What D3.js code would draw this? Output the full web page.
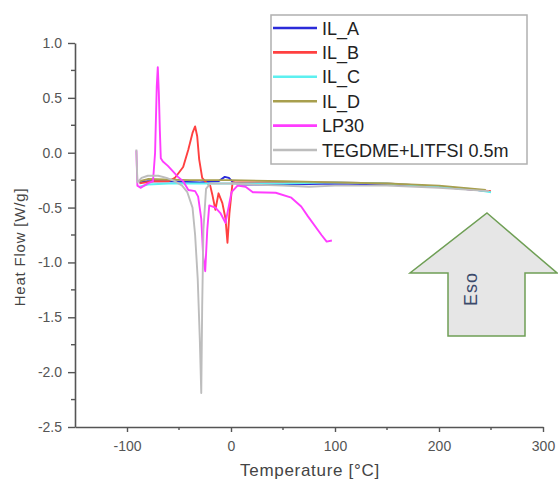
<!DOCTYPE html>
<meta charset="utf-8">
<body style="margin:0;background:#fff">
<script src="https://d3js.org/d3.v7.min.js"></script>
<div id="chart"></div>
<script>

// Series values: [temperature °C, heat flow W/g]
var ilA = [[-88,-0.27],[-80,-0.26],[-60,-0.26],[-30,-0.27],[-12,-0.26],[-6,-0.22],[-2,-0.23],[2,-0.27],[10,-0.29],[50,-0.29],[100,-0.28],[150,-0.29],[200,-0.31],[248,-0.35]]
var ilB = [[-88,-0.28],[-75,-0.26],[-60,-0.26],[-54,-0.23],[-46,-0.13],[-41,0.03],[-37,0.18],[-34.5,0.24],[-32.5,0.15],[-30.6,-0.06],[-27.7,-0.23],[-24,-0.27],[-20,-0.3],[-18,-0.38],[-15,-0.52],[-12,-0.37],[-8.3,-0.46],[-5.3,-0.6],[-3.4,-0.82],[-1.5,-0.55],[1.5,-0.27],[20,-0.27],[50,-0.27],[100,-0.27],[150,-0.28],[200,-0.31],[250,-0.35]]
var ilC = [[-88,-0.31],[-80,-0.29],[-60,-0.28],[0,-0.28],[50,-0.28],[100,-0.27],[150,-0.28],[200,-0.31],[230,-0.33],[250,-0.36]]
var ilD = [[-88,-0.26],[-80,-0.24],[-40,-0.25],[0,-0.25],[50,-0.26],[100,-0.27],[150,-0.28],[200,-0.3],[245,-0.34]]
var lp30 = [[-91,0.02],[-90,-0.3],[-87,-0.32],[-80,-0.28],[-75,-0.26],[-73,0.0],[-71.4,0.6],[-70.4,0.78],[-69.4,0.55],[-68.4,0.2],[-67.5,-0.05],[-65.5,-0.08],[-60.7,-0.12],[-55.8,-0.17],[-51,-0.22],[-46,-0.26],[-41,-0.34],[-34.5,-0.35],[-31.6,-0.4],[-28.6,-0.6],[-26.7,-0.95],[-24.8,-1.08],[-22.8,-0.7],[-20.9,-0.48],[-15,-0.5],[-10.2,-0.55],[-5.3,-0.64],[-2.4,-0.5],[0.5,-0.36],[6.3,-0.3],[14,-0.31],[21,-0.36],[43,-0.365],[58,-0.41],[67.5,-0.49],[74,-0.58],[87,-0.75],[92,-0.81],[97,-0.8]]
var tegdme = [[-91,0.03],[-90,-0.27],[-86,-0.23],[-80,-0.21],[-70,-0.21],[-62,-0.23],[-54,-0.26],[-47,-0.3],[-42,-0.36],[-37,-0.5],[-34.5,-0.75],[-32,-1.15],[-30,-1.7],[-28.6,-2.19],[-27.7,-1.4],[-26.5,-0.7],[-24,-0.33],[-20,-0.28],[0,-0.28],[20,-0.29],[50,-0.3],[75,-0.31],[100,-0.3],[150,-0.3],[200,-0.32],[248,-0.35]]

var seriesNames = ["IL_A", "IL_B", "IL_C", "IL_D", "LP30", "TEGDME+LITFSI 0.5m"]
var seriesColors = ["#2b2bd9", "#ff4040", "#5cf0f0", "#a89f4e", "#ff3cff", "#bdbdbd"]
var seriesData = [ilA, ilB, ilC, ilD, lp30, tegdme]

var xTicks = [-100, 0, 100, 200, 300]
var yTicks = [1.0, 0.5, 0.0, -0.5, -1.0, -1.5, -2.0, -2.5]

var width = 558, height = 482
var font = "'Liberation Sans', Arial, sans-serif"

var svg = d3.select("#chart")
  .append("svg")
    .attr("width", width)
    .attr("height", height)

var x = d3.scaleLinear().domain([-150, 300]).range([75, 543])
var y = d3.scaleLinear().domain([-2.5, 1.0]).range([427, 43])

var axisColor = "#555"

// Bottom axis (plain hyphen for minus, like the original)
var gx = svg.append("g")
  .attr("transform", "translate(0," + y(-2.5) + ")")
  .call(d3.axisBottom(x).tickValues(xTicks).tickSize(5).tickSizeOuter(0)
    .tickFormat(function(d) { return String(d) }))
gx.attr("font-family", font)
gx.selectAll("text").style("font-size", "14px").attr("fill", axisColor).attr("dy", "1.15em")
gx.select(".domain").attr("stroke", axisColor).attr("stroke-width", 1.6)
gx.selectAll(".tick line").attr("stroke", axisColor).attr("stroke-width", 1.4)
gx.selectAll(".minor")
  .data([-50, 50, 150, 250])
  .join("line")
    .attr("class", "minor")
    .attr("x1", function(d) { return x(d) }).attr("x2", function(d) { return x(d) })
    .attr("y1", 0).attr("y2", 3)
    .attr("stroke", axisColor).attr("stroke-width", 1.4)

// Left axis
var gy = svg.append("g")
  .attr("transform", "translate(" + x(-150) + ",0)")
  .call(d3.axisLeft(y).tickValues(yTicks).tickSize(7).tickSizeOuter(0)
    .tickFormat(function(d) { return d.toFixed(1) }))
gy.attr("font-family", font)
gy.selectAll("text").style("font-size", "14px").attr("fill", axisColor).attr("x", -13)
gy.select(".domain").attr("stroke", axisColor).attr("stroke-width", 1.6)
gy.selectAll(".tick line").attr("stroke", axisColor).attr("stroke-width", 1.4)
gy.selectAll(".minor")
  .data([0.75, 0.25, -0.25, -0.75, -1.25, -1.75, -2.25])
  .join("line")
    .attr("class", "minor")
    .attr("y1", function(d) { return y(d) }).attr("y2", function(d) { return y(d) })
    .attr("x1", 0).attr("x2", -4)
    .attr("stroke", axisColor).attr("stroke-width", 1.4)

// Axis titles
svg.append("text")
  .attr("x", 310)
  .attr("y", 476)
  .attr("text-anchor", "middle")
  .attr("font-family", font)
  .style("font-size", "17px")
  .style("letter-spacing", "0.7px")
  .attr("fill", "#444")
  .text("Temperature [°C]")

svg.append("text")
  .attr("transform", "translate(25,247) rotate(-90)")
  .attr("text-anchor", "middle")
  .attr("font-family", font)
  .style("font-size", "15px")
  .style("letter-spacing", "0.8px")
  .attr("fill", "#444")
  .text("Heat Flow [W/g]")

// Curves
var line = d3.line()
  .x(function(d) { return x(d[0]) })
  .y(function(d) { return y(d[1]) })

svg.append("g")
  .selectAll("path")
  .data(seriesData)
  .join("path")
    .attr("d", line)
    .attr("fill", "none")
    .attr("stroke", function(d, i) { return seriesColors[i] })
    .attr("stroke-width", 1.9)
    .attr("stroke-linejoin", "round")

// Legend
var legend = svg.append("g").attr("font-family", font)
legend.append("rect")
  .attr("x", 271).attr("y", 15)
  .attr("width", 256).attr("height", 149)
  .attr("fill", "#fff")
  .attr("stroke", "#b0b0b0")
  .attr("stroke-width", 1.5)

var rows = legend.selectAll(".row")
  .data(seriesNames)
  .join("g")
    .attr("class", "row")
    .attr("transform", function(d, i) { return "translate(0," + (28 + i * 24.4) + ")" })
rows.append("line")
  .attr("x1", 273).attr("x2", 317)
  .attr("stroke", function(d, i) { return seriesColors[i] })
  .attr("stroke-width", 2.6)
rows.append("text")
  .attr("x", 322)
  .attr("y", 6.5)
  .style("font-size", "18px")
  .attr("fill", "#222")
  .text(function(d) { return d })

// "Eso" arrow
var arrowPts = [[487, 213], [557, 273], [525, 273], [525, 336], [448, 336], [448, 273], [410, 273]]
svg.append("polygon")
  .attr("points", arrowPts.map(function(p) { return p.join(",") }).join(" "))
  .attr("fill", "#e6e6e6")
  .attr("stroke", "#6f9f55")
  .attr("stroke-width", 1.5)
svg.append("text")
  .attr("transform", "translate(477,289) rotate(-90)")
  .attr("text-anchor", "middle")
  .attr("font-family", font)
  .style("font-size", "18px")
  .style("letter-spacing", "1px")
  .attr("fill", "#3b4a6b")
  .text("Eso")

</script>
